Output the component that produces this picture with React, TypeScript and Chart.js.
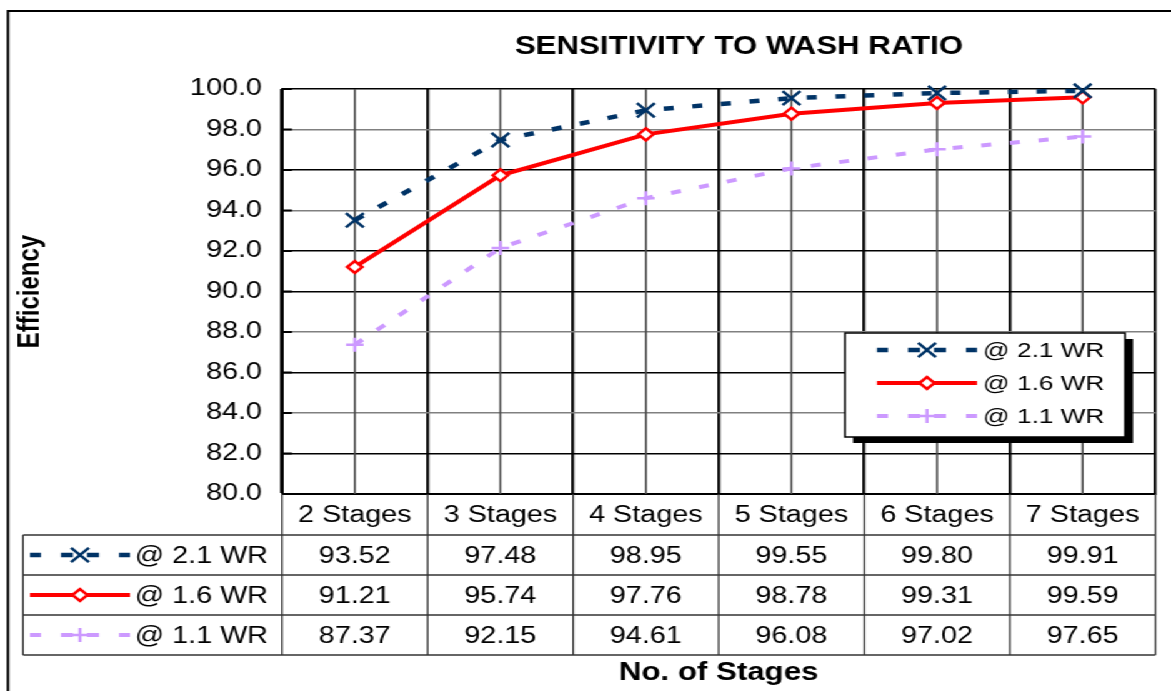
import React, { useEffect, useRef } from "react";
import { Chart, registerables } from "chart.js";

Chart.register(...registerables);

// ---------- data ----------
const categories = ["2 Stages", "3 Stages", "4 Stages", "5 Stages", "6 Stages", "7 Stages"];
const wr21 = [93.52, 97.48, 98.95, 99.55, 99.8, 99.91];
const wr16 = [91.21, 95.74, 97.76, 98.78, 99.31, 99.59];
const wr11 = [87.37, 92.15, 94.61, 96.08, 97.02, 97.65];
const seriesLabels = ["@ 2.1 WR", "@ 1.6 WR", "@ 1.1 WR"];
const seriesValues = [wr21, wr16, wr11];
const yMin = 80;
const yMax = 100;
const yStep = 2;
const chartTitle = "SENSITIVITY TO WASH RATIO";
const xTitle = "No. of Stages";
const yTitle = "Efficiency";

// ---------- layout / style ----------
const W = 1171;
const H = 691;
const IW = 937;
const K = W / IW;
const sx = (x: number) => x / K;
const FONT = "Arial, 'Liberation Sans', sans-serif";

const STYLES = [
  { color: "#003366", fill: "#003366", dash: [8, 15], point: "crossRot", radius: 10, pw: 2.5, width: 4.5 },
  { color: "#FF0000", fill: "#FFFFFF", dash: [] as number[], point: "rectRot", radius: 6, pw: 2.5, width: 4 },
  { color: "#CC99FF", fill: "#CC99FF", dash: [8, 15], point: "cross", radius: 7, pw: 2.5, width: 4 },
];
const SAMPLE_DASHES = [[-50, -39], [-19, -7], [7, 19], [39, 50]];
const GREY_GRID = [84, 88, 94, 98];
const TABLE_ROWS = [535, 575, 615, 655];

function drawMarker(ctx: CanvasRenderingContext2D, s: any, x: number, y: number) {
  const r = s.radius;
  ctx.save();
  ctx.setLineDash([]);
  ctx.lineWidth = s.pw;
  ctx.strokeStyle = s.color;
  ctx.fillStyle = s.fill;
  ctx.beginPath();
  if (s.point === "crossRot") {
    const d = r * Math.SQRT1_2;
    ctx.moveTo(x - d, y - d);
    ctx.lineTo(x + d, y + d);
    ctx.moveTo(x + d, y - d);
    ctx.lineTo(x - d, y + d);
    ctx.stroke();
  } else if (s.point === "rectRot") {
    ctx.moveTo(x - r, y);
    ctx.lineTo(x, y - r);
    ctx.lineTo(x + r, y);
    ctx.lineTo(x, y + r);
    ctx.closePath();
    ctx.fill();
    ctx.stroke();
  } else {
    ctx.moveTo(x - r, y);
    ctx.lineTo(x + r, y);
    ctx.moveTo(x, y - r);
    ctx.lineTo(x, y + r);
    ctx.stroke();
  }
  ctx.restore();
}

function drawSample(ctx: CanvasRenderingContext2D, s: any, cx: number, y: number) {
  ctx.save();
  ctx.strokeStyle = s.color;
  ctx.lineWidth = s.width;
  ctx.lineCap = "butt";
  ctx.beginPath();
  if (s.dash.length === 0) {
    ctx.moveTo(cx - sx(50), y);
    ctx.lineTo(cx + sx(50), y);
  } else {
    SAMPLE_DASHES.forEach(([a, b]) => {
      ctx.moveTo(cx + sx(a), y);
      ctx.lineTo(cx + sx(b), y);
    });
  }
  ctx.stroke();
  ctx.restore();
  drawMarker(ctx, s, cx, y);
}

const overlayPlugin = {
  id: "overlay",
  beforeDatasetsDraw(chart: any) {
    const { ctx, chartArea: a } = chart;
    const x = chart.scales.x;
    const y = chart.scales.y;
    ctx.save();
    ctx.strokeStyle = "#4a4a4a";
    ctx.lineWidth = 1.6;
    categories.forEach((_, i) => {
      const px = x.getPixelForValue(i);
      ctx.beginPath();
      ctx.moveTo(px, a.top);
      ctx.lineTo(px, a.bottom);
      ctx.stroke();
    });
    ctx.strokeStyle = "#000";
    ctx.lineWidth = 2;
    y.ticks.forEach((t: any) => {
      const py = y.getPixelForValue(t.value);
      ctx.beginPath();
      ctx.moveTo(a.left, py);
      ctx.lineTo(a.left + sx(10), py);
      ctx.stroke();
    });
    ctx.restore();
  },
  afterDraw(chart: any) {
    const { ctx, chartArea: a } = chart;
    const x = chart.scales.x;
    ctx.save();

    // outer frame
    ctx.strokeStyle = "#000";
    ctx.lineWidth = 2;
    ctx.beginPath();
    ctx.moveTo(sx(8), H + 5);
    ctx.lineTo(sx(8), 11);
    ctx.lineTo(IW + 5, 11);
    ctx.stroke();

    // title
    ctx.fillStyle = "#000";
    ctx.font = `bold 25px ${FONT}`;
    ctx.textAlign = "center";
    ctx.textBaseline = "middle";
    ctx.fillText(chartTitle, sx(739), 47);

    // data table
    const half = (x.getPixelForValue(1) - x.getPixelForValue(0)) / 2;
    const tableLeft = sx(23);
    const last = TABLE_ROWS[TABLE_ROWS.length - 1];
    ctx.strokeStyle = "#333";
    ctx.lineWidth = 1.3;
    TABLE_ROWS.forEach((ry) => {
      ctx.beginPath();
      ctx.moveTo(tableLeft, ry);
      ctx.lineTo(a.right, ry);
      ctx.stroke();
    });
    ctx.beginPath();
    ctx.moveTo(tableLeft, TABLE_ROWS[0]);
    ctx.lineTo(tableLeft, last);
    ctx.stroke();
    ctx.beginPath();
    ctx.moveTo(a.left, a.bottom);
    ctx.lineTo(a.left, last);
    ctx.stroke();
    categories.forEach((_, i) => {
      const bx = x.getPixelForValue(i) + half;
      ctx.beginPath();
      ctx.moveTo(bx, a.bottom);
      ctx.lineTo(bx, last);
      ctx.stroke();
    });

    ctx.font = `23px ${FONT}`;
    ctx.fillStyle = "#000";
    seriesValues.forEach((vals, r) => {
      const cy = (TABLE_ROWS[r] + TABLE_ROWS[r + 1]) / 2;
      ctx.textAlign = "center";
      vals.forEach((v, i) => {
        ctx.fillText(v.toFixed(2), x.getPixelForValue(i), cy + 2);
      });
      ctx.textAlign = "right";
      ctx.fillText(seriesLabels[r], sx(268), cy + 2);
      drawSample(ctx, STYLES[r], sx(80), cy);
    });

    // legend box
    const lx = sx(845);
    const ly = 333;
    const lw = sx(1125) - sx(845);
    const lh = 104;
    ctx.fillStyle = "#000";
    ctx.fillRect(lx + sx(8), ly + 6, lw, lh);
    ctx.fillStyle = "#fff";
    ctx.fillRect(lx, ly, lw, lh);
    ctx.strokeStyle = "#000";
    ctx.lineWidth = 1.5;
    ctx.strokeRect(lx, ly, lw, lh);
    const legendRows = [350, 383, 416];
    ctx.font = `21px ${FONT}`;
    ctx.textAlign = "left";
    ctx.textBaseline = "middle";
    seriesLabels.forEach((lab, r) => {
      drawSample(ctx, STYLES[r], sx(927), legendRows[r]);
      ctx.fillStyle = "#000";
      ctx.fillText(lab, sx(983), legendRows[r] + 1);
    });

    ctx.restore();
  },
};

export default function App() {
  const ref = useRef<HTMLCanvasElement>(null);
  useEffect(() => {
    if (!ref.current) return;
    const chart = new Chart(ref.current, {
      type: "line",
      data: {
        labels: categories,
        datasets: seriesValues.map((vals, i) => ({
          label: seriesLabels[i],
          data: vals,
          borderColor: STYLES[i].color,
          backgroundColor: STYLES[i].fill,
          borderWidth: STYLES[i].width,
          borderDash: STYLES[i].dash,
          borderCapStyle: "butt",
          pointStyle: STYLES[i].point as any,
          pointRadius: STYLES[i].radius,
          pointBorderWidth: STYLES[i].pw,
          pointBorderColor: STYLES[i].color,
          pointBackgroundColor: STYLES[i].fill,
          tension: 0,
          clip: false as any,
        })),
      },
      options: {
        responsive: false,
        animation: false,
        devicePixelRatio: 1,
        layout: { padding: { left: 6, right: IW - sx(1163), top: 89, bottom: 0 } },
        plugins: {
          legend: { display: false },
          title: { display: false },
          tooltip: { enabled: false },
        },
        scales: {
          x: {
            offset: true,
            grid: { offset: true, color: "#111", lineWidth: 2.4, drawTicks: false },
            border: { color: "#000", width: 2 },
            ticks: { font: { family: FONT, size: 23 }, color: "#000", padding: 8, maxRotation: 0, autoSkip: false },
            title: {
              display: true,
              text: xTitle,
              color: "#000",
              font: { family: FONT, size: 25, weight: "bold" },
              padding: { top: 0, bottom: 3 },
            },
            afterFit: (s: any) => {
              s.height = H - 494;
            },
          },
          y: {
            min: yMin,
            max: yMax,
            ticks: {
              stepSize: yStep,
              callback: (v: any) => Number(v).toFixed(1),
              font: { family: FONT, size: 23 },
              color: "#000",
              padding: 16,
            },
            grid: {
              color: (c: any) => (GREY_GRID.includes(c.tick && c.tick.value) ? "#808080" : "#000"),
              lineWidth: 1.4,
              drawTicks: false,
            },
            border: { color: "#000", width: 2 },
            title: {
              display: true,
              text: yTitle,
              color: "#000",
              font: { family: FONT, size: 24, weight: "bold" },
              padding: { top: 4, bottom: 0 },
            },
            afterFit: (s: any) => {
              s.width = sx(282) - 6;
            },
          },
        },
      },
      plugins: [overlayPlugin],
    } as any);
    return () => chart.destroy();
  }, []);

  return (
    <div
      style={{
        position: "fixed",
        left: 0,
        top: 0,
        width: IW,
        height: H,
        transform: `scaleX(${K})`,
        transformOrigin: "0 0",
        background: "#fff",
      }}
    >
      <canvas ref={ref} width={IW} height={H} style={{ width: IW, height: H, display: "block" }} />
    </div>
  );
}
